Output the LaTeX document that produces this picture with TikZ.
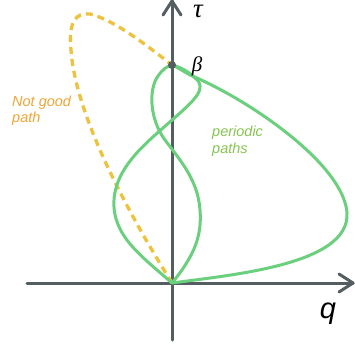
\documentclass[tikz,border=0pt]{standalone}
\usepackage{fontspec}
\newfontfamily\labfont{Liberation Sans}
\newfontfamily\symfont{Liberation Serif}
\definecolor{axisgray}{HTML}{545D5F}
\definecolor{pathgreen}{HTML}{6BD07E}
\definecolor{dashyellow}{HTML}{EDC23E}
\definecolor{notgood}{HTML}{F0A535}
\definecolor{pertext}{HTML}{86C451}
\begin{document}
\begin{tikzpicture}[x=1pt,y=-1pt,
  axisline/.style={draw=axisgray,line width=3pt,line cap=round,line join=round},
  greenpath/.style={draw=pathgreen,line width=3pt,line cap=round},
  badpath/.style={draw=dashyellow,line width=3.3pt,dash pattern=on 7pt off 5pt},
  sidelabel/.style={font=\labfont\itshape\fontsize{14.5}{16.5}\selectfont,anchor=base west,inner sep=0pt}]
\useasboundingbox (0,0) rectangle (355,351);
\coordinate (O) at (172,283);
\coordinate (B) at (172,65);
\coordinate (ytop) at (172,1);
\coordinate (ybot) at (172,340);
\coordinate (xleft) at (27,283);
\coordinate (xright) at (353,283);
% axes
\draw[axisline] (ybot) -- (ytop);
\draw[axisline] (163,15) -- (ytop) -- (181,15);
\draw[axisline] (xleft) -- (xright);
\draw[axisline] (339,274) -- (xright) -- (339,292);
% bad path
\draw[badpath] (O) .. controls (120,200) and (75,110) .. (71,50)
  .. controls (68,22) and (76,12) .. (90,14)
  .. controls (115,20) and (150,48) .. (B);
% periodic paths
\draw[greenpath] (O) .. controls (140,255) and (112,235) .. (114,200)
  .. controls (116,165) and (150,140) .. (172,120)
  .. controls (195,100) and (208,88) .. (195,78)
  .. controls (188,71) and (180,67) .. (B);
\draw[greenpath] (O) .. controls (195,255) and (202,235) .. (200,210)
  .. controls (198,180) and (180,160) .. (165,140)
  .. controls (150,120) and (148,90) .. (158,76)
  .. controls (162,70) and (167,66) .. (B);
\draw[greenpath] (O) .. controls (230,275) and (350,265) .. (347,213)
  .. controls (344,165) and (250,100) .. (190,75)
  .. controls (183,71) and (177,67) .. (B);
\fill[axisgray] (B) circle (4);
% labels
\node[inner sep=0pt,anchor=base] (tau) at (198,17) {\symfont\itshape\fontsize{27}{27}\selectfont τ};
\node (beta) at (197,66) {\symfont\itshape\fontsize{21}{21}\selectfont β};
\node (q) at (328,314) {\labfont\itshape\fontsize{29}{29}\selectfont q};
\node[sidelabel,text=notgood] (ng1) at (12,106) {Not good};
\node[sidelabel,text=notgood] (ng2) at (12,122.5) {path};
\node[sidelabel,text=pertext] (pp1) at (212,136) {periodic};
\node[sidelabel,text=pertext] (pp2) at (212,153) {paths};
\end{tikzpicture}
\end{document}
